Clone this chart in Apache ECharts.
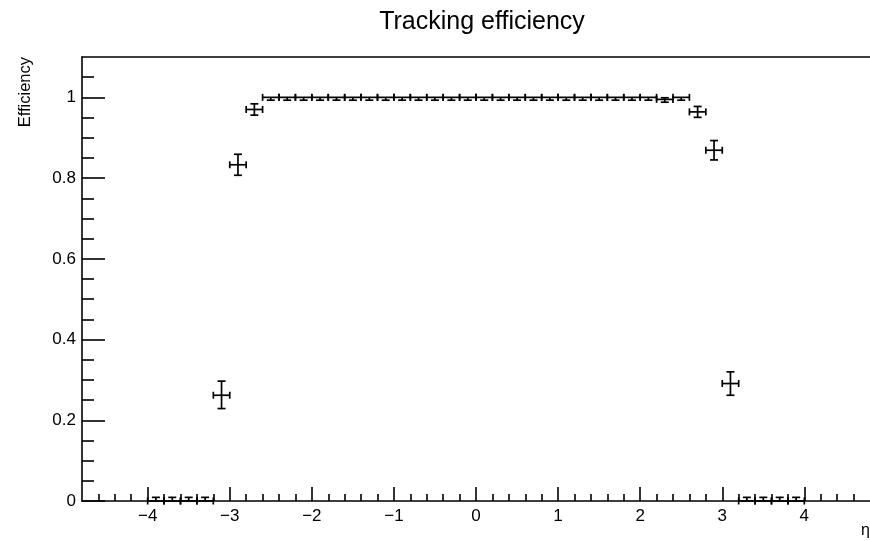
<!DOCTYPE html>
<html>
<head>
<meta charset="utf-8">
<script src="https://cdn.jsdelivr.net/npm/echarts@6/dist/echarts.min.js"></script>
<style>
html,body{margin:0;padding:0;background:#fff;}
#chart{width:870px;height:541px;}
</style>
</head>
<body>
<div id="chart"></div>
<script>
// ---- data ----
const etaCenters = [-3.9,-3.7,-3.5,-3.3,-3.1,-2.9,-2.7,-2.5,-2.3,-2.1,-1.9,-1.7,-1.5,-1.3,-1.1,-0.9,-0.7,-0.5,-0.3,-0.1,
                    0.1,0.3,0.5,0.7,0.9,1.1,1.3,1.5,1.7,1.9,2.1,2.3,2.5,2.7,2.9,3.1,3.3,3.5,3.7,3.9];
const efficiency = [0,0,0,0,0.262,0.833,0.970,1,1,1,1,1,1,1,1,1,1,1,1,1,
                    1,1,1,1,1,1,1,1,1,1,1,0.995,1,0.964,0.869,0.291,0,0,0,0];
const errLow     = [0,0,0,0,0.033,0.026,0.014,0.007,0.007,0.007,0.007,0.007,0.007,0.007,0.007,0.007,0.007,0.007,0.007,0.007,
                    0.007,0.007,0.007,0.007,0.007,0.007,0.007,0.007,0.007,0.007,0.007,0.007,0.007,0.0135,0.024,0.029,0,0,0,0];
const errHigh    = [0.009,0.009,0.009,0.009,0.035,0.026,0.014,0,0,0,0,0,0,0,0,0,0,0,0,0,
                    0,0,0,0,0,0,0,0,0,0,0,0.004,0,0.0135,0.024,0.029,0.009,0.009,0.009,0.009];
const binWidth = 0.2;
const xMajorTicks = [-4,-3,-2,-1,0,1,2,3,4];
const xMinorTicks = [-4.6,-4.4,-4.2,-3.8,-3.6,-3.4,-3.2,-2.8,-2.6,-2.4,-2.2,-1.8,-1.6,-1.4,-1.2,-0.8,-0.6,-0.4,-0.2,
                     0.2,0.4,0.6,0.8,1.2,1.4,1.6,1.8,2.2,2.4,2.6,2.8,3.2,3.4,3.6,3.8,4.2,4.4,4.6];
const yMajorTicks = [0,0.2,0.4,0.6,0.8,1];
const yMinorTicks = [0.05,0.1,0.15,0.25,0.3,0.35,0.45,0.5,0.55,0.65,0.7,0.75,0.85,0.9,0.95,1.05];
const xRange = [-4.8, 4.8];
const yRange = [0, 1.1];

const FONT = 'Liberation Sans, Arial, Helvetica, sans-serif';
const seriesData = etaCenters.map((x, i) => [x, efficiency[i], errLow[i], errHigh[i], binWidth / 2]);

const gridBox = {left: 82, top: 57, width: 790, height: 444};
const lw = 1.6;

const chart = echarts.init(document.getElementById('chart'), null, {renderer: 'canvas'});
chart.setOption({
  animation: false,
  backgroundColor: '#ffffff',
  title: {
    text: 'Tracking efficiency',
    left: 477, top: 5, textAlign: 'center',
    textStyle: {fontFamily: FONT, fontSize: 25, fontWeight: 'normal', color: '#000'}
  },
  grid: [
    Object.assign({show: false}, gridBox),
    Object.assign({show: false}, gridBox)
  ],
  xAxis: [
    {
      type: 'value', gridIndex: 0, min: xRange[0], max: xRange[1], position: 'bottom',
      axisLine: {show: true, onZero: false, lineStyle: {color: '#000', width: lw}},
      splitLine: {show: false},
      axisTick: {show: true, inside: true, length: 14, customValues: xMajorTicks, lineStyle: {color: '#000', width: lw}},
      axisLabel: {show: true, customValues: xMajorTicks, margin: 7, color: '#000', fontFamily: FONT, fontSize: 17,
                  formatter: v => String(v).replace('-', '\u2212')}
    },
    {
      type: 'value', gridIndex: 1, min: xRange[0], max: xRange[1], position: 'bottom',
      axisLine: {show: false, onZero: false},
      splitLine: {show: false},
      axisTick: {show: true, inside: true, length: 7, customValues: xMinorTicks, lineStyle: {color: '#000', width: lw}},
      axisLabel: {show: false}
    },
    {
      type: 'value', gridIndex: 0, min: xRange[0], max: xRange[1], position: 'top',
      axisLine: {show: true, onZero: false, lineStyle: {color: '#000', width: lw}},
      splitLine: {show: false},
      axisTick: {show: false},
      axisLabel: {show: false}
    }
  ],
  yAxis: [
    {
      type: 'value', gridIndex: 0, min: yRange[0], max: yRange[1],
      axisLine: {show: true, onZero: false, lineStyle: {color: '#000', width: lw}},
      splitLine: {show: false},
      axisTick: {show: true, inside: true, length: 23, customValues: yMajorTicks, lineStyle: {color: '#000', width: lw}},
      axisLabel: {show: true, customValues: yMajorTicks, margin: 6, color: '#000', fontFamily: FONT, fontSize: 17}
    },
    {
      type: 'value', gridIndex: 1, min: yRange[0], max: yRange[1],
      axisLine: {show: false, onZero: false},
      splitLine: {show: false},
      axisTick: {show: true, inside: true, length: 12, customValues: yMinorTicks, lineStyle: {color: '#000', width: lw}},
      axisLabel: {show: false}
    }
  ],
  graphic: [
    {type: 'text', x: 25, y: 57, rotation: Math.PI / 2,
     style: {text: 'Efficiency', fontFamily: FONT, fontSize: 16.5, fill: '#000', align: 'right', verticalAlign: 'middle'}},
    {type: 'text', x: 870, y: 531,
     style: {text: '\u03b7', fontFamily: FONT, fontSize: 16, fill: '#000', align: 'right', verticalAlign: 'middle'}}
  ],
  series: [
    {
      type: 'custom', xAxisIndex: 0, yAxisIndex: 0, clip: false,
      data: seriesData,
      renderItem: function (params, api) {
        const x = api.value(0), y = api.value(1), el = api.value(2), eh = api.value(3), hw = api.value(4);
        const pC = api.coord([x, y]);
        const pL = api.coord([x - hw, y]);
        const pR = api.coord([x + hw, y]);
        const pLo = api.coord([x, y - el]);
        const pHi = api.coord([x, y + eh]);
        const cap = 4, capH = 3.5;
        const st = {stroke: '#000', lineWidth: 1.7, fill: null};
        const seg = (x1, y1, x2, y2) => ({type: 'line', shape: {x1, y1, x2, y2}, style: st});
        const ch = [
          seg(pL[0], pL[1], pR[0], pR[1]),
          seg(pL[0], pL[1] - capH, pL[0], pL[1] + capH),
          seg(pR[0], pR[1] - capH, pR[0], pR[1] + capH)
        ];
        if (el > 0) {
          ch.push(seg(pC[0], pC[1], pLo[0], pLo[1]));
          ch.push(seg(pLo[0] - cap, pLo[1], pLo[0] + cap, pLo[1]));
        }
        if (eh > 0) {
          ch.push(seg(pC[0], pC[1], pHi[0], pHi[1]));
          ch.push(seg(pHi[0] - cap, pHi[1], pHi[0] + cap, pHi[1]));
        }
        return {type: 'group', children: ch};
      }
    }
  ]
});
</script>
</body>
</html>
